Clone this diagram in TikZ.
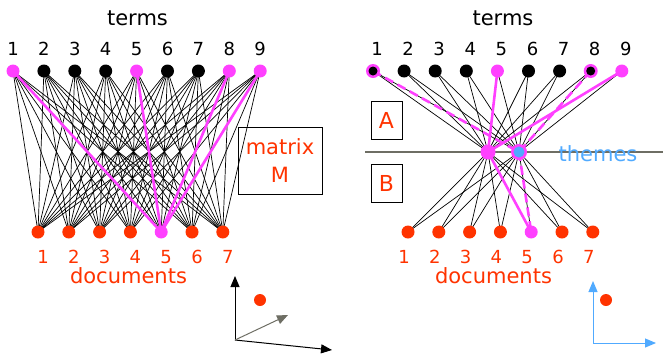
\documentclass[tikz,border=0pt]{standalone}
\usepackage{fontspec}
\setmainfont{DejaVu Sans}
\usetikzlibrary{arrows.meta}
\definecolor{docred}{RGB}{255,51,0}
\definecolor{hilite}{RGB}{255,64,255}
\definecolor{themeblue}{RGB}{80,170,255}
\definecolor{axisgray}{RGB}{110,110,100}
\tikzset{
	link/.style={line width=0.7pt, black},
	hot/.style={line width=2.6pt, hilite},
	hotdash/.style={line width=2.6pt, hilite, dash pattern=on 9pt off 5pt},
	numlabel/.style={font=\fontsize{18}{20}\selectfont},
	biglabel/.style={font=\fontsize{21}{25}\selectfont},
	letterbox/.style={draw, line width=0.8pt, minimum width=31pt, minimum height=38pt, text=docred, font=\fontsize{22}{24}\selectfont},
	axis/.style={line width=1pt, -{Triangle[length=11pt,width=9pt]}},
}

\begin{document}
\begin{tikzpicture}[x=1pt, y=-1pt]
			%%%%% START %%%%%
			\useasboundingbox (0, 0) rectangle (663, 354);
			
			% left: terms against documents
			\foreach \i in {1,...,9} \coordinate (lt\i) at ({13+30.9*(\i-1)}, 71);
			\foreach \j in {1,...,7} \coordinate (ld\j) at ({38+30.8*(\j-1)}, 232);
			
			\foreach \i in {1,...,9} \foreach \j in {1,...,7} \draw[link] (lt\i) -- (ld\j);
			\foreach \i in {1,5,8,9} \draw[hot] (lt\i) -- (ld5);
			
			\foreach \i in {2,3,4,6,7} \fill[black] (lt\i) circle (6.5);
			\foreach \i in {1,5,8,9} \fill[hilite] (lt\i) circle (6.5);
			\foreach \j in {1,2,3,4,6,7} \fill[docred] (ld\j) circle (6.5);
			\fill[hilite] (ld5) circle (6.5);
			
			\foreach \i in {1,...,9} \node[numlabel] (ltn\i) at ({13+30.9*(\i-1)}, 49) {\i};
			\foreach \j in {1,...,7} \node[numlabel, text=docred] (ldn\j) at ({43+30.8*(\j-1)}, 257) {\j};
			\node[biglabel] (lterms) at (137.5, 18) {terms};
			\node[biglabel, text=docred] (ldocs) at (128.5, 275.5) {documents};
			
			\node[draw, line width=0.8pt, minimum width=84pt, minimum height=67pt, align=center, text=docred,
				font=\fontsize{21}{28}\selectfont] (mbox) at (280, 160.5) {matrix\\M};
			
			% left: axes with a point
			\coordinate (lo) at (235, 340);
			\coordinate (lup) at (235, 276);
			\coordinate (lright) at (332, 350);
			\coordinate (lslant) at (288, 315);
			\draw[axis] (lo) -- (lup);
			\draw[axis] (lo) -- (lright);
			\draw[axis, color=axisgray] (lo) -- (lslant);
			\fill[docred] (260, 300) circle (6);
			
			% right: terms, themes, documents
			\foreach \i in {1,...,9} \coordinate (rt\i) at ({373+31.1*(\i-1)}, 71);
			\foreach \j in {1,...,7} \coordinate (rd\j) at ({408+30.8*(\j-1)}, 232);
			\coordinate (th1) at (488, 152);
			\coordinate (th2) at (519, 152);
			
			\draw[line width=1.4pt, color=axisgray] (365, 152) -- (663, 152);
			
			\foreach \i in {1,...,9} \foreach \k in {1,2} \draw[link] (rt\i) -- (th\k);
			\foreach \k in {1,2} \foreach \j in {1,...,7} \draw[link] (th\k) -- (rd\j);
			\draw[hot] (rt5) -- (th1);
			\draw[hot] (rt9) -- (th1);
			\draw[hotdash] (rt1) -- (th2);
			\draw[hotdash] (rt8) -- (th2);
			\draw[hot] (th1) -- (rd5);
			\draw[hotdash] (th2) -- (rd5);
			
			\foreach \i in {2,3,4,6,7} \fill[black] (rt\i) circle (6.5);
			\foreach \i in {5,9} \fill[hilite] (rt\i) circle (6.5);
			\foreach \i in {1,8} {\fill[hilite] (rt\i) circle (7); \fill[black] (rt\i) circle (4.5);}
			\fill[hilite] (th1) circle (7.5);
			\fill[hilite] (th2) circle (8);
			\fill[themeblue] (th2) circle (5.5);
			\foreach \j in {1,2,3,4,6,7} \fill[docred] (rd\j) circle (6.5);
			\fill[hilite] (rd5) circle (6.5);
			
			\foreach \i in {1,...,9} \node[numlabel] (rtn\i) at ({377+31.1*(\i-1)}, 49) {\i};
			\foreach \j in {1,...,7} \node[numlabel, text=docred] (rdn\j) at ({404+30.8*(\j-1)}, 257) {\j};
			\node[biglabel] (rterms) at (503, 18) {terms};
			\node[biglabel, text=docred] (rdocs) at (493.5, 275.5) {documents};
			\node[biglabel, text=themeblue] (themes) at (598, 154) {themes};
			
			\node[letterbox] (boxA) at (386.5, 120) {A};
			\node[letterbox] (boxB) at (386.5, 183) {B};
			
			% right: plane axes with a point
			\coordinate (ro) at (593, 343);
			\coordinate (rup) at (593, 281);
			\coordinate (rright) at (656, 343);
			\draw[axis, color=themeblue] (ro) -- (rup);
			\draw[axis, color=themeblue] (ro) -- (rright);
			\fill[docred] (606, 300) circle (6);
			
			%%%%% END %%%%%
\end{tikzpicture}
\end{document}
